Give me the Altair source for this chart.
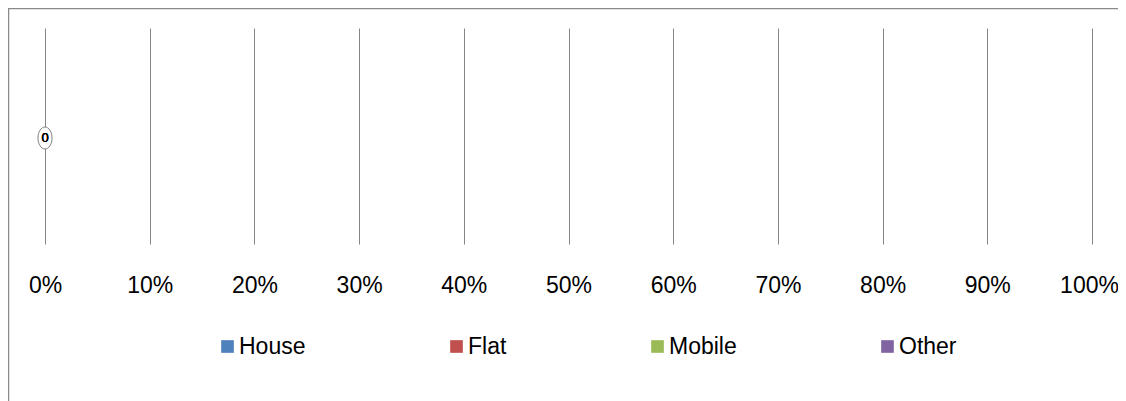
import altair as alt
import pandas as pd

categories = ["House", "Flat", "Mobile", "Other"]
values = [0, 0, 0, 0]
row_label = [""] * 4
tick_values = [0, 0.1, 0.2, 0.3, 0.4, 0.5, 0.6, 0.7, 0.8, 0.9, 1.0]
colors = ["#4F81BD", "#C0504D", "#9BBB59", "#8064A2"]

df = pd.DataFrame({"type": categories, "value": values, "row": row_label,
                   "label": [str(v) for v in values]})

W, H = 1047, 216
FONT = "Liberation Sans"

xscale = alt.Scale(domain=[0, 1], nice=False, zero=False)
yenc = alt.Y("row:N", axis=None, scale=alt.Scale(paddingInner=0.5, paddingOuter=0.25))

bars = alt.Chart(df).mark_bar().encode(
    x=alt.X("value:Q", stack="zero", scale=xscale,
            axis=alt.Axis(values=tick_values, format=".0%", grid=True,
                          gridColor="#868686", gridWidth=1, domain=False, ticks=False,
                          labelFont=FONT, labelFontSize=23, labelColor="#000000",
                          labelPadding=30, title=None, labelFlush=False,
                          labelOffset={"condition": {"test": "datum.value == 1", "value": -3},
                                       "value": 0})),
    y=yenc,
    color=alt.Color("type:N", sort=categories,
                    scale=alt.Scale(domain=categories, range=colors),
                    legend=alt.Legend(title=None, orient="none", legendX=171, legendY=307,
                                      direction="horizontal", columns=4, gridAlign="none",
                                      columnPadding=139, symbolType="square", symbolSize=160,
                                      symbolStrokeWidth=0, labelFont=FONT, labelFontSize=23,
                                      labelColor="#000000", labelOffset=0, labelLimit=300)),
    order=alt.Order("type:N"),
)

ellipse_shape = "M0,-1 A0.64,1 0 1,1 0,1 A0.64,1 0 1,1 0,-1 Z"
callout = alt.Chart(df).transform_filter("datum.type == 'House'").mark_point(
    shape=ellipse_shape, size=484, filled=False, fill="#ffffff", fillOpacity=1,
    stroke="#7f7f7f", strokeWidth=1, opacity=1, yOffset=2
).encode(x=alt.X("value:Q", scale=xscale), y=yenc)

labels = alt.Chart(df).mark_text(font=FONT, fontSize=13, color="#000000",
                                 baseline="middle", align="center", dy=2).encode(
    x=alt.X("value:Q", scale=xscale), y=yenc, text="label:N")

frame = alt.Chart(pd.DataFrame({"f": [0]})).mark_rect(
    fill=None, stroke="#8a8a8a", strokeWidth=2.5, clip=False
).encode(x=alt.value(-37), x2=alt.value(W + 60), y=alt.value(-20), y2=alt.value(H + 200))

chart = alt.layer(frame, bars, callout, labels).properties(
    width=W, height=H,
    autosize=alt.AutoSizeParams(type="none"),
    padding={"left": 37, "top": 20, "right": 26, "bottom": 157},
).configure_view(stroke=None)

chart.save("out.html", embed_options={"renderer": "svg", "actions": False})
